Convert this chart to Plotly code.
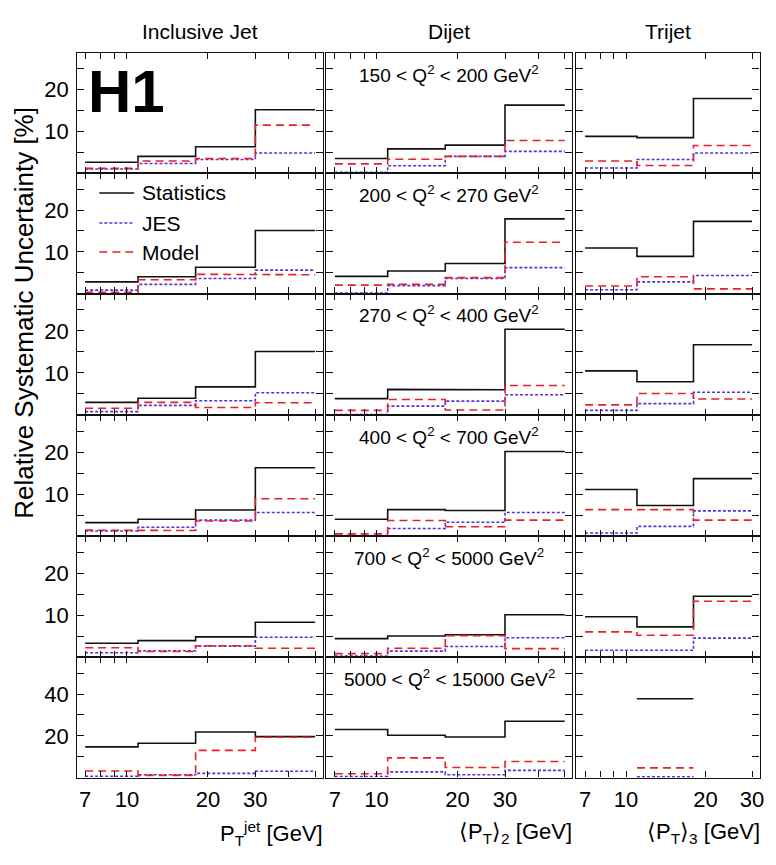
import plotly.graph_objects as go

# bin edges [GeV]
incl_edges = [7, 11, 18, 30, 50]
dijet_edges = [7, 11, 18, 30, 50]
trijet_edges = [7, 11, 18, 30]

q2_labels = ["150 &lt; Q<sup>2</sup> &lt; 200 GeV<sup>2</sup>",
             "200 &lt; Q<sup>2</sup> &lt; 270 GeV<sup>2</sup>",
             "270 &lt; Q<sup>2</sup> &lt; 400 GeV<sup>2</sup>",
             "400 &lt; Q<sup>2</sup> &lt; 700 GeV<sup>2</sup>",
             "700 &lt; Q<sup>2</sup> &lt; 5000 GeV<sup>2</sup>",
             "5000 &lt; Q<sup>2</sup> &lt; 15000 GeV<sup>2</sup>"]

# relative uncertainties [%], one list per Q2 bin
incl_stat = [[2.6, 4.0, 6.3, 15.2], [2.8, 4.0, 6.3, 15.1], [3.0, 4.0, 6.7, 15.1],
             [3.2, 4.0, 6.2, 16.3], [3.3, 3.9, 4.8, 8.3], [14.7, 16.4, 21.8, 19.6]]
incl_jes = [[0.95, 2.3, 3.25, 4.8], [0.8, 2.2, 3.6, 5.6], [0.8, 2.3, 3.4, 5.3],
            [1.2, 2.1, 3.8, 5.6], [1.0, 1.5, 2.6, 4.7], [0.6, 1.3, 2.0, 3.0]]
incl_model = [[1.1, 2.9, 3.5, 11.5], [0.3, 3.3, 4.6, 4.5], [1.6, 3.0, 1.8, 2.9],
              [1.4, 1.3, 3.6, 8.9], [2.2, 1.3, 2.7, 2.1], [3.1, 1.0, 13.0, 19.3]]

dijet_stat = [[3.5, 5.8, 6.7, 16.3], [4.1, 5.4, 7.2, 17.9], [3.9, 6.1, 6.0, 20.4],
              [4.0, 6.3, 6.1, 20.2], [4.4, 5.0, 5.3, 10.1], [23.0, 20.3, 19.4, 27.0]]
dijet_jes = [[0.15, 1.75, 4.0, 5.2], [0.1, 1.9, 3.6, 6.2], [0.1, 2.1, 3.3, 4.8],
             [0.1, 1.8, 3.3, 5.6], [0.2, 1.4, 2.5, 4.6], [0.5, 2.7, 1.3, 3.4]]
dijet_model = [[2.2, 3.3, 4.0, 7.8], [2.0, 2.2, 3.8, 12.3], [1.1, 3.7, 1.2, 7.0],
               [0.5, 3.7, 2.2, 3.8], [0.8, 2.1, 5.1, 2.0], [1.8, 9.4, 4.8, 7.7]]

trijet_stat = [[8.8, 8.5, 17.9], [10.9, 8.9, 17.3], [10.5, 7.9, 16.7],
               [11.1, 7.3, 13.7], [9.6, 7.2, 14.5], [None, 37.8, None]]
trijet_jes = [[1.2, 3.25, 4.8], [0.9, 2.8, 4.3], [1.1, 2.7, 5.4],
              [0.7, 2.3, 6.0], [1.6, 1.6, 4.5], [None, 0.3, None]]
trijet_model = [[2.9, 1.8, 6.6], [1.8, 4.0, 1.1], [2.4, 5.1, 3.8],
                [6.3, 6.3, 3.8], [6.0, 5.2, 13.3], [None, 4.6, None]]

columns = [
    ("Inclusive Jet", incl_edges, incl_stat, incl_jes, incl_model),
    ("Dijet", dijet_edges, dijet_stat, dijet_jes, dijet_model),
    ("Trijet", trijet_edges, trijet_stat, trijet_jes, trijet_model),
]

W, H = 776, 865
FONT = "Liberation Sans, Arial, Helvetica, sans-serif"
BLACK = "#111111"
BLUE = "#5a30d8"
RED = "#e8202a"

col_px = [(77.7, 325.0), (328.3, 576.0), (579.3, 764.5)]
row_px = [52.7, 173.0, 293.5, 415.0, 536.0, 657.0, 777.5]
x_ranges = [[0.8155, 1.728], [0.813, 1.727], [0.809, 1.5055]]

styles = [
    ("Statistics", BLACK, "solid"),
    ("JES", BLUE, "3px,2px"),
    ("Model", RED, "8px,5px"),
]


def step_xy(edges, vals):
    xs, ys = [], []
    for i, v in enumerate(vals):
        if v is None:
            xs.append(None)
            ys.append(None)
            continue
        xs += [edges[i], edges[i + 1]]
        ys += [v, v]
    return xs, ys


fig = go.Figure()
layout = {}

for r in range(6):
    for c, (title, edges, stat, jes, model) in enumerate(columns):
        n = r * 3 + c + 1
        sfx = "" if n == 1 else str(n)
        for (name, color, dash), series in zip(styles, [stat, jes, model]):
            xs, ys = step_xy(edges, series[r])
            fig.add_trace(go.Scatter(
                x=xs, y=ys, mode="lines", showlegend=False,
                line=dict(color=color, width=1.6, dash=dash),
                xaxis="x" + sfx, yaxis="y" + sfx, hoverinfo="skip"))

        x0, x1 = col_px[c]
        top, bot = row_px[r], row_px[r + 1]
        bottom_row = r == 5
        if c < 2:
            xt = [7, 8, 9, 10, 20, 30, 40, 50]
            xl = ["7", "", "", "10", "20", "30", "", ""]
        else:
            xt = [7, 8, 9, 10, 20, 30]
            xl = ["7", "", "", "10", "20", "30"]
        layout["xaxis" + sfx] = dict(
            domain=[x0 / W, x1 / W], anchor="y" + sfx, type="log",
            range=x_ranges[c], showgrid=False, zeroline=False,
            showline=True, linecolor=BLACK, linewidth=1.2, mirror="allticks",
            ticks="inside", ticklen=6, tickwidth=1.2, tickcolor=BLACK,
            tickmode="array", tickvals=xt, ticktext=xl,
            showticklabels=bottom_row, ticklabelstandoff=2,
            tickfont=dict(family=FONT, size=22, color="black"))
        if bottom_row:
            yt = [10, 20, 30, 40, 50]
            yl = ["", "20", "", "40", ""]
            yr = [0, 57.8]
        else:
            yt = [5, 10, 15, 20, 25]
            yl = ["", "10", "", "20", ""]
            yr = [0, 28.9]
        layout["yaxis" + sfx] = dict(
            domain=[1 - bot / H, 1 - top / H], anchor="x" + sfx,
            range=yr, showgrid=False, zeroline=False,
            showline=True, linecolor=BLACK, linewidth=1.2, mirror="allticks",
            ticks="inside", ticklen=7, tickwidth=1.2, tickcolor=BLACK,
            tickmode="array", tickvals=yt, ticktext=yl,
            showticklabels=(c == 0), ticklabelstandoff=3,
            tickfont=dict(family=FONT, size=22, color="black"))

annotations = []
# column titles
for c, (title, *_rest) in enumerate(columns):
    x0, x1 = col_px[c]
    annotations.append(dict(
        text=title, x=(x0 + x1) / 2 / W, y=1 - 31 / H, xref="paper", yref="paper",
        showarrow=False, font=dict(family=FONT, size=21, color="black"),
        xanchor="center", yanchor="middle"))

# Q2 bin labels in the dijet column
for r, lab in enumerate(q2_labels):
    x0, x1 = col_px[1]
    annotations.append(dict(
        text=lab, x=(x0 + x1) / 2 / W, y=1 - (row_px[r] + 21) / H,
        xref="paper", yref="paper", showarrow=False,
        font=dict(family=FONT, size=19, color="black"),
        xanchor="center", yanchor="middle"))

# H1 logo
annotations.append(dict(
    text="<b>H1</b>", x=127 / W, y=1 - 91 / H, xref="paper", yref="paper",
    showarrow=False, font=dict(family=FONT, size=60, color="black"),
    xanchor="center", yanchor="middle"))

# legend
shapes = []
leg_y = [193, 223, 252]
for (name, color, dash), ly in zip(styles, leg_y):
    shapes.append(dict(
        type="line", xref="paper", yref="paper",
        x0=100 / W, x1=135 / W, y0=1 - ly / H, y1=1 - ly / H,
        line=dict(color=color, width=1.6, dash=dash)))
    annotations.append(dict(
        text=name, x=141 / W, y=1 - ly / H, xref="paper", yref="paper",
        showarrow=False, font=dict(family=FONT, size=21, color="black"),
        xanchor="left", yanchor="middle"))

# axis titles
annotations.append(dict(
    text="Relative Systematic Uncertainty [%]", x=24 / W, y=1 - 313 / H,
    xref="paper", yref="paper", showarrow=False, textangle=-90,
    font=dict(family=FONT, size=26, color="black"),
    xanchor="center", yanchor="middle"))
x_titles = ["P<sub>T</sub><sup>jet</sup> [GeV]",
            "\u27e8P<sub>T</sub>\u27e9<sub>2</sub> [GeV]",
            "\u27e8P<sub>T</sub>\u27e9<sub>3</sub> [GeV]"]
for c, t in enumerate(x_titles):
    annotations.append(dict(
        text=t, x=(col_px[c][1] + 2) / W, y=1 - 833 / H,
        xref="paper", yref="paper", showarrow=False,
        font=dict(family=FONT, size=22, color="black"),
        xanchor="right", yanchor="middle"))

layout.update(dict(
    width=W, height=H,
    margin=dict(l=0, r=0, t=0, b=0),
    paper_bgcolor="white", plot_bgcolor="white",
    showlegend=False,
    annotations=annotations, shapes=shapes,
    font=dict(family=FONT, color="black"),
))
fig.update_layout(layout)

fig.write_html("out.html", config={"displayModeBar": False},
               post_script="document.body.style.margin='0';"
                           "document.body.style.overflow='hidden';")
